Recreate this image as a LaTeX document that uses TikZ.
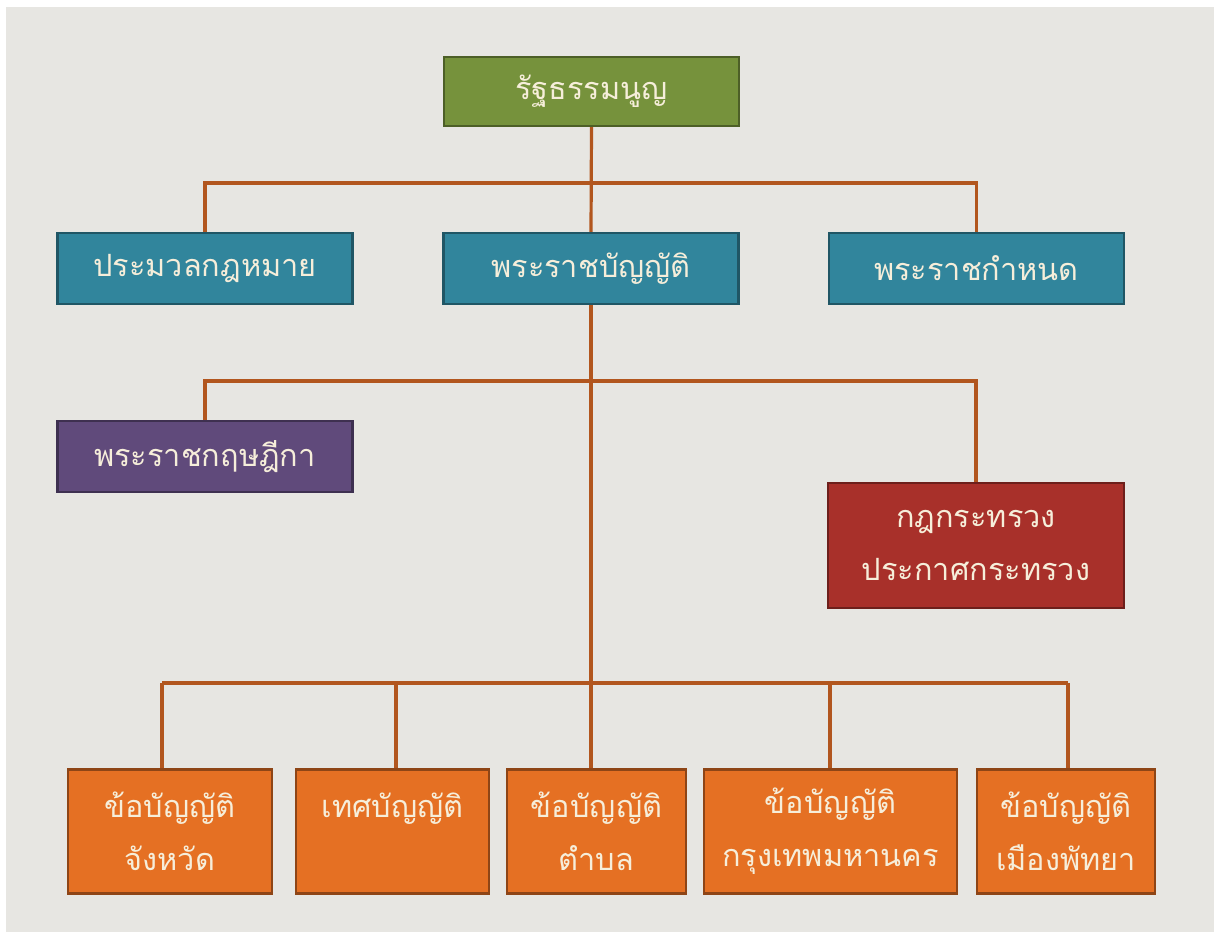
\documentclass[tikz,border=0pt]{standalone}
\usepackage{fontspec}
\newfontfamily\thaifont[Script=Thai]{Loma}

\definecolor{bggrey}{RGB}{231,230,226}
\definecolor{txtcream}{RGB}{246,238,218}
\definecolor{linebrown}{RGB}{178,86,30}
\definecolor{boxgreen}{RGB}{118,146,60}
\definecolor{boxteal}{RGB}{49,133,156}
\definecolor{boxpurple}{RGB}{96,74,123}
\definecolor{boxred}{RGB}{168,48,42}
\definecolor{boxorange}{RGB}{229,112,35}

\tikzset{every picture/.style={line width=0.75pt}}

\begin{document}
\begin{tikzpicture}[x=0.75pt,y=0.75pt,yscale=-1,xscale=1,
  orgbox/.style={rectangle, line width=1.6pt, inner sep=0pt, align=center,
    text=txtcream, font=\thaifont\fontsize{23}{40}\selectfont},
  greenbox/.style={orgbox, fill=boxgreen, draw=boxgreen!65!black, minimum width=221.25pt, minimum height=51.75pt},
  tealbox/.style={orgbox, fill=boxteal, draw=boxteal!65!black, minimum width=221.25pt, minimum height=53.25pt},
  purplebox/.style={orgbox, fill=boxpurple, draw=boxpurple!65!black, minimum width=221.25pt, minimum height=53.25pt},
  redbox/.style={orgbox, fill=boxred, draw=boxred!65!black, minimum width=222pt, minimum height=93.75pt},
  orangebox/.style={orgbox, fill=boxorange, draw=boxorange!62!black, minimum height=93pt},
  link/.style={draw=linebrown, line width=2.4pt}]
	%set diagram size 1214 x 932
	\useasboundingbox (0,0) rectangle (1214,932);
	\fill[white] (0,0) rectangle (1214,932);
	\fill[bggrey] (6,7) rectangle (1214,932);

	%Bus points
	\coordinate (busA) at (591,183);
	\coordinate (busB) at (591,381);
	\coordinate (dropA) at (162,683);
	\coordinate (dropB) at (396,683);
	\coordinate (dropC) at (591,683);
	\coordinate (dropD) at (830,683);
	\coordinate (dropE) at (1068,683);

	%Shape: Rectangle [top]
	\node[greenbox] (consti) at (591.5,91.5) {รัฐธรรมนูญ};
	%Shape: Rectangle [row 2]
	\node[tealbox] (code) at (205,268.5) {ประมวลกฎหมาย};
	\node[tealbox] (act) at (591,268.5) {พระราชบัญญัติ};
	\node[tealbox] (edecree) at (976.5,268.5) {พระราชกำหนด};
	%Shape: Rectangle [row 3]
	\node[purplebox] (rdecree) at (205,456.5) {พระราชกฤษฎีกา};
	\node[redbox] (minist) at (976,545.5) {กฎกระทรวง\\ประกาศกระทรวง};
	%Shape: Rectangle [bottom row]
	\node[orangebox, minimum width=153pt] (prov) at (170,831.5) {ข้อบัญญัติ\\จังหวัด};
	\node[orangebox, minimum width=145pt] (muni) at (392.5,831.5) {เทศบัญญัติ\\\mbox{}};
	\node[orangebox, minimum width=134.25pt] (tambon) at (596.5,831.5) {ข้อบัญญัติ\\ตำบล};
	\node[orangebox, minimum width=189.75pt] (bkk) at (830.5,831.5) {ข้อบัญญัติ\\กรุงเทพมหานคร};
	\node[orangebox, minimum width=133.5pt] (pattaya) at (1066,831.5) {ข้อบัญญัติ\\เมืองพัทยา};

	%Straight Lines
	\begin{scope}[on background layer/.try]
	\draw[link] (consti.south) -- (act.north);
	\draw[link] (code.north) |- (busA) -| (edecree.north);
	\draw[link] (act.south) -- (act.south |- tambon.north);
	\draw[link] (rdecree.north) |- (busB) -| (minist.north);
	\draw[link] (dropA) -- (dropE);
	\draw[link] (dropA) -- (dropA |- prov.north);
	\draw[link] (dropB) -- (dropB |- muni.north);
	\draw[link] (dropD) -- (dropD |- bkk.north);
	\draw[link] (dropE) -- (dropE |- pattaya.north);
	\end{scope}

\end{tikzpicture}
\end{document}
